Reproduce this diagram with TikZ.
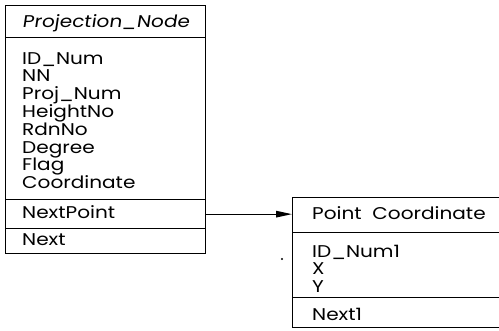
\documentclass[tikz,border=0pt]{standalone}
\usepackage{fontspec}
\setmainfont{Poppins}[FakeStretch=1.18]
\newfontfamily\titlefont{Poppins}[FakeStretch=1.18,FakeSlant=0.15]
\usetikzlibrary{arrows.meta}
\tikzset{
  box/.style={draw, line width=1.3pt, anchor=north west, inner sep=0pt, rectangle},
  field/.style={anchor=base west, inner sep=0pt, font=\fontsize{17}{18}\selectfont},
  ttl/.style={anchor=base west, inner sep=0pt, font=\titlefont\fontsize{17}{18}\selectfont},
  link/.style={line width=1.3pt, -{Triangle[length=16pt,width=6.5pt]}}
}
\begin{document}
\begin{tikzpicture}[x=1pt,y=-1pt]
\useasboundingbox (0,0) rectangle (499,330);
% left structure
\node[box, minimum width=200pt, minimum height=32pt] (ltitle) at (5,5) {};
\node[box, minimum width=200pt, minimum height=162pt] (lbody) at (5,37) {};
\node[box, minimum width=200pt, minimum height=29pt] (lnp) at (5,199) {};
\node[box, minimum width=200pt, minimum height=25pt] (lnext) at (5,228) {};
\node[ttl] (t1) at (22,27) {Projection\_Node};
\node[field] (f1) at (22,64) {ID\_Num};
\node[field] (f2) at (22,81.8) {NN};
\node[field] (f3) at (22,99.6) {Proj\_Num};
\node[field] (f4) at (22,117.4) {HeightNo};
\node[field] (f5) at (22,135.2) {RdnNo};
\node[field] (f6) at (22,153) {Degree};
\node[field] (f7) at (22,170.8) {Flag};
\node[field] (f8) at (22,188.6) {Coordinate};
\node[field] (f9) at (22,218) {NextPoint};
\node[field] (f10) at (22,245) {Next};
% right structure
\node[box, minimum width=213pt, minimum height=35pt] (rtitle) at (292,197) {};
\node[box, minimum width=213pt, minimum height=65pt] (rbody) at (292,232) {};
\node[box, minimum width=213pt, minimum height=30pt] (rnext) at (292,297) {};
\node[field] (t2) at (312,219) {Point\ \ Coordinate};
\node[field] (g1) at (312,257) {ID\_Num1};
\node[field] (g2) at (312,274.5) {X};
\node[field] (g3) at (312,292) {Y};
\node[field] (g4) at (312,320) {Next1};
% stray dot
\fill (282,259) circle (1.2pt);
% connector
\draw[link] (lnp.east) -- (lnp.east -| rtitle.west);
\end{tikzpicture}
\end{document}
